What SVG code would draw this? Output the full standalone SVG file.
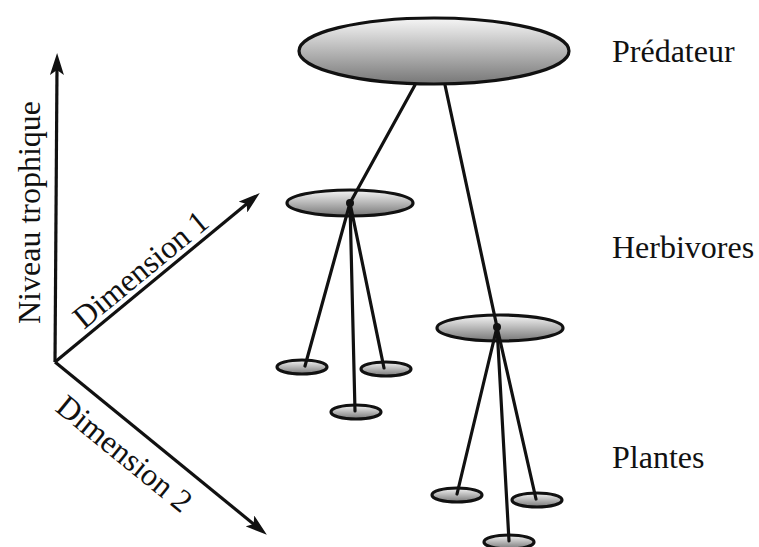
<svg xmlns="http://www.w3.org/2000/svg" width="759" height="547" viewBox="0 0 759 547">
  <style>
    .lbl { font-family: "Liberation Serif", "Times New Roman", serif; font-size: 32px; fill: #111; }
    .node { stroke: #111; stroke-width: 3.2; fill: url(#g); }
    .edge { stroke: #111; stroke-width: 3.2; fill: none; stroke-linecap: round; }
    .axis { stroke: #111; stroke-width: 3.2; fill: none; marker-end: url(#arr); }
  </style>
  <defs>
    <linearGradient id="g" x1="0" y1="0" x2="0" y2="1">
      <stop offset="0" stop-color="#f6f6f6"/>
      <stop offset="1" stop-color="#777"/>
    </linearGradient>
    <marker id="arr" markerUnits="userSpaceOnUse" viewBox="0 0 22 14" markerWidth="22" markerHeight="14" refX="8" refY="7" orient="auto">
      <path d="M0,0 L22,7 L0,14 L5,7 Z" fill="#111"/>
    </marker>
  </defs>
  <rect width="759" height="547" fill="#fff"/>

  <g id="axes">
    <line class="axis" x1="55" y1="362" x2="57" y2="67"/>
    <line class="axis" x1="55" y1="362" x2="249" y2="202"/>
    <line class="axis" x1="55" y1="362" x2="256" y2="526"/>
    <text class="lbl" transform="translate(40,324) rotate(-90)">Niveau trophique</text>
    <text class="lbl" transform="translate(84,330) rotate(-39.5)">Dimension 1</text>
    <text class="lbl" transform="translate(54,410) rotate(39.2)">Dimension 2</text>
  </g>

  <g id="predateur"><ellipse class="node" cx="434" cy="51" rx="135" ry="33"/></g>
  <g id="herbivore1"><ellipse class="node" cx="350" cy="203" rx="63" ry="13"/></g>
  <g id="herbivore2"><ellipse class="node" cx="500" cy="328" rx="63" ry="13"/></g>
  <g id="plante1"><ellipse class="node" cx="302" cy="367" rx="25" ry="7"/></g>
  <g id="plante2"><ellipse class="node" cx="386" cy="369" rx="25" ry="7"/></g>
  <g id="plante3"><ellipse class="node" cx="356" cy="412" rx="25" ry="7"/></g>
  <g id="plante4"><ellipse class="node" cx="457" cy="495" rx="25" ry="7"/></g>
  <g id="plante5"><ellipse class="node" cx="537" cy="500" rx="25" ry="7"/></g>
  <g id="plante6"><ellipse class="node" cx="509" cy="542" rx="25" ry="7"/></g>

  <g id="connectors">
    <line class="edge" x1="415" y1="85" x2="350" y2="203"/>
    <line class="edge" x1="445" y1="85" x2="497" y2="327"/>
    <line class="edge" x1="350" y1="203" x2="305" y2="366"/>
    <line class="edge" x1="350" y1="203" x2="355" y2="411"/>
    <line class="edge" x1="350" y1="203" x2="384" y2="368"/>
    <line class="edge" x1="497" y1="327" x2="457" y2="494"/>
    <line class="edge" x1="497" y1="327" x2="509" y2="541"/>
    <line class="edge" x1="497" y1="327" x2="536" y2="499"/>
    <circle cx="350" cy="203" r="4" fill="#111"/>
    <circle cx="497" cy="327" r="4" fill="#111"/>
  </g>

  <g id="labels">
    <text class="lbl" x="612" y="62">Prédateur</text>
    <text class="lbl" x="612" y="258">Herbivores</text>
    <text class="lbl" x="612" y="468">Plantes</text>
  </g>
</svg>
